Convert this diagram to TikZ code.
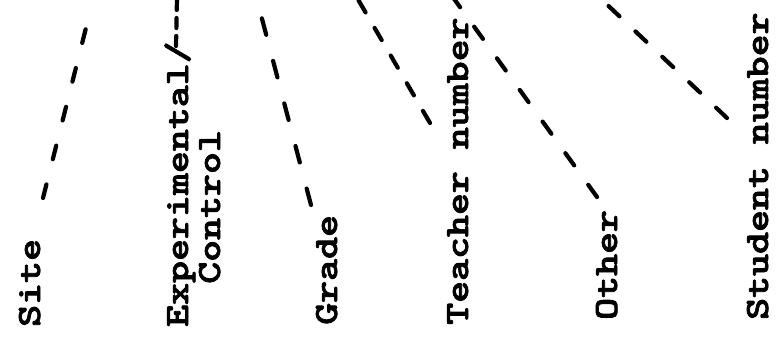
\documentclass[tikz,border=0pt]{standalone}
\usepackage{fontspec}
\newfontfamily\typew[FakeBold=2]{lmmonolt10-bold.otf}
\begin{document}
\newcommand{\wide}[1]{\scalebox{1.23}[1]{#1}}
\begin{tikzpicture}[x=1pt,y=-1pt,
  lbl/.style={rotate=90, anchor=base west, inner sep=0pt,
    font=\fontsize{34}{32}\selectfont\typew},
  conn/.style={line width=4.2pt, line cap=round, dash pattern=on 14pt off 26pt}]
\useasboundingbox (0,0) rectangle (777,339);
% labels
\node[lbl] (site) at (40,327) {\wide{Site}};
\node[lbl] (exp) at (188,327) {\wide{Experimental/}};
\node[lbl] (ctrl) at (220,284) {\wide{Control}};
\node[lbl] (grade) at (337,325) {\wide{Grade}};
\node[lbl] (teach) at (468,325) {\wide{Teacher number}};
\node[lbl] (other) at (617,320) {\wide{Other}};
\node[lbl] (stud) at (768,320) {\wide{Student number}};
% connector ends
\coordinate (siteA) at (43,198);   \coordinate (siteB) at (88,20);
\coordinate (expA) at (176,46);    \coordinate (expB) at (177,-2);
\coordinate (gradeA) at (311,205); \coordinate (gradeB) at (256,-4);
\coordinate (teachA) at (430,123); \coordinate (teachB) at (356,-4);
\coordinate (otherA) at (597,197); \coordinate (otherB) at (452,-4);
\coordinate (studA) at (727,118);  \coordinate (studB) at (598,-4);
% connectors
\draw[conn] (siteA) -- (siteB);
\draw[conn, dash pattern=on 10pt off 8pt] (expA) -- (expB);
\draw[conn, dash pattern=on 17pt off 27pt] (gradeA) -- (gradeB);
\draw[conn, dash pattern=on 14pt off 18pt] (teachA) -- (teachB);
\draw[conn, dash pattern=on 15pt off 24pt] (otherA) -- (otherB);
\draw[conn, dash pattern=on 15pt off 22pt] (studA) -- (studB);
\end{tikzpicture}
\end{document}
